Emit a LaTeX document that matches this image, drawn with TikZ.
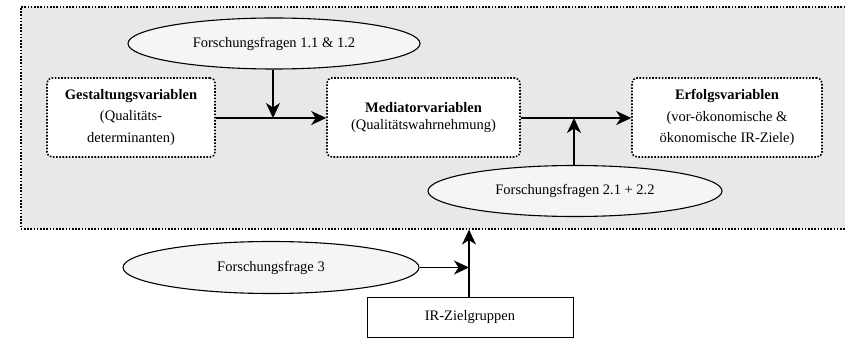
\documentclass[tikz,border=0pt]{standalone}
\usepackage{fontspec}
\setmainfont{Liberation Serif}
\usetikzlibrary{arrows.meta,shapes.geometric}
\definecolor{panelgray}{HTML}{E8E8E8}
\definecolor{ovalfill}{HTML}{F5F5F5}
\begin{document}
\begin{tikzpicture}[x=1pt,y=-1pt,
  font=\fontsize{14.5}{21.5}\selectfont,
  dotline/.style={line width=1.6pt,dash pattern=on 1.6pt off 1.6pt},
  varbox/.style={draw,dotline,fill=white,rounded corners=5pt,align=center,
    inner sep=0pt,minimum height=79pt},
  question/.style={ellipse,draw,line width=1.1pt,fill=ovalfill,inner sep=0pt,
    minimum height=51pt},
  flow/.style={line width=1.1pt,-{Stealth[length=15pt,width=14pt,inset=4.5pt]}}]
\useasboundingbox (0,0) rectangle (845,339);

% shaded panel, open to the right
\node[draw,dotline,fill=panelgray,rectangle,inner sep=0pt,
  minimum width=834pt,minimum height=222pt,anchor=north west] (panel) at (20,6) {};

% variable groups
\node[varbox,minimum width=168pt] (gest) at (131,117.5)
  {\textbf{Gestaltungsvariablen}\\(Qualitäts-\\determinanten)};
\node[varbox,minimum width=193pt] (med) at (423.5,117.5)
  {\textbf{Mediatorvariablen}\\[-5pt](Qualitätswahrnehmung)};
\node[varbox,minimum width=190pt] (erf) at (727,117.5)
  {\textbf{Erfolgsvariablen}\\(vor-ökonomische \&\\ökonomische IR-Ziele)};

% research questions
\node[question,minimum width=292pt] (q1) at (274,43.5) {Forschungsfragen 1.1 \& 1.2};
\node[question,minimum width=294pt] (q2) at (575,191) {Forschungsfragen 2.1 + 2.2};
\node[question,minimum width=296pt,minimum height=52pt] (q3) at (271,267.5) {Forschungsfrage 3};

% target groups
\node[draw,line width=1pt,fill=white,minimum width=206pt,minimum height=40pt,
  inner sep=0pt] (ir) at (470,317.5) {IR-Zielgruppen};

% connectors
\coordinate (j1) at (273,118);
\coordinate (j2) at (574,118);
\coordinate (j3) at (469,267.5);
\draw[flow] (gest.east |- j1) -- (med.west |- j1);
\draw[flow] (med.east |- j2) -- (erf.west |- j2);
\draw[flow] (q1.south -| j1) -- (j1);
\draw[flow] (q2.north -| j2) -- (j2);
\draw[flow] (ir.north -| j3) -- (panel.south -| j3);
\draw[flow] (q3.east) -- (j3);
\end{tikzpicture}
\end{document}
